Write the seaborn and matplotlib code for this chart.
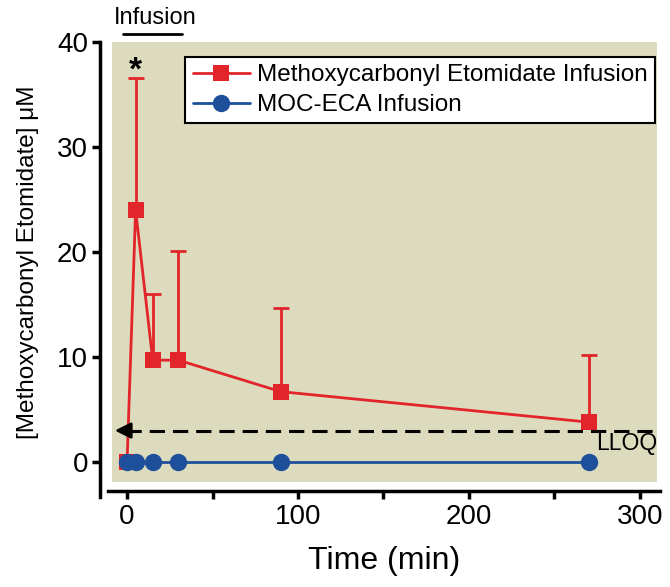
import numpy as np
import pandas as pd
import seaborn as sns
import matplotlib.pyplot as plt

# --- data ---
time_moc = [0, 5, 15, 30, 90, 270]
conc_moc = [0.0, 24.0, 9.7, 9.7, 6.7, 3.8]
err_moc = [0.0, 12.6, 6.3, 10.4, 8.0, 6.4]

time_eca = [0, 5, 15, 30, 90, 270]
conc_eca = [0.0, 0.0, 0.0, 0.0, 0.0, 0.0]

lloq = 3.0
infusion_bar = [-2.5, 32]

label_moc = "Methoxycarbonyl Etomidate Infusion"
label_eca = "MOC-ECA Infusion"

red = "#E2242B"
blue = "#1D4F9B"
bg = "#DDDBBE"

sns.set_style("ticks")
plt.rcParams['font.family'] = ['Liberation Sans', 'DejaVu Sans']
for k in ['text.color', 'axes.labelcolor', 'xtick.color', 'ytick.color', 'axes.edgecolor']:
    plt.rcParams[k] = 'black'

fig = plt.figure(figsize=(6.7, 5.87), dpi=100)
ax = fig.add_axes([0.1672, 0.1789, 0.8134, 0.7496])
ax.set_facecolor(bg)

df_moc = pd.DataFrame({"t": time_moc, "c": conc_moc})
df_eca = pd.DataFrame({"t": time_eca, "c": conc_eca})

# red series with upper error bars only
eb = ax.errorbar(time_moc, conc_moc, yerr=[np.zeros(len(err_moc)), err_moc],
                 fmt='none', ecolor=red, elinewidth=2, capsize=6, capthick=2, zorder=2)
eb[1][0].set_visible(False)  # hide lower caps
sns.lineplot(data=df_moc, x="t", y="c", ax=ax, color=red, lw=2, marker="s",
             markersize=11, markeredgewidth=0, label=label_moc, zorder=3)
sns.lineplot(data=df_eca, x="t", y="c", ax=ax, color=blue, lw=2, marker="o",
             markersize=12.5, markeredgewidth=0, label=label_eca, zorder=4)

xlim = (-8.8, 310)
ax.set_xlim(*xlim)
ax.set_ylim(-1.9, 40)

# LLOQ dashed line with arrow
ax.annotate("", xy=(xlim[0], lloq), xytext=(xlim[0] + 9, lloq),
            arrowprops=dict(arrowstyle="-|>", color="black", lw=2, mutation_scale=24),
            zorder=5)
ax.plot([xlim[0] + 8, xlim[1]], [lloq, lloq], color="black", lw=2.2,
        ls=(0, (5, 2.6)), zorder=5)
ax.text(xlim[1], lloq - 0.15, "LLOQ", ha="right", va="top", fontsize=16.5)

ax.text(4.7, 35.8, "*", ha="center", va="bottom", fontsize=24, fontweight="bold")

# infusion bar above the plot
ax.plot(infusion_bar, [40.75, 40.75], color="black", lw=2, clip_on=False)
ax.text(16.4, 41.2, "Infusion", ha="center", va="bottom", fontsize=17)

# axes styling
ax.set_xticks([0, 100, 200, 300])
ax.set_xticks([50, 150, 250], minor=True)
ax.set_yticks([0, 10, 20, 30, 40])
ax.tick_params(axis='both', which='major', labelsize=20, width=2.5, length=6, pad=3)
ax.tick_params(axis='x', which='minor', width=2.5, length=6)
for s in ["top", "right"]:
    ax.spines[s].set_visible(False)
ax.spines["left"].set_position(("outward", 8.3))
ax.spines["bottom"].set_position(("outward", 6.5))
ax.spines["left"].set_linewidth(2.5)
ax.spines["bottom"].set_linewidth(2.5)
ax.spines["left"].set_bounds(-3.3, 40)
ax.spines["bottom"].set_bounds(-11, 312)

ax.set_xlabel("Time (min)", fontsize=23, labelpad=12)
ax.set_ylabel("[Methoxycarbonyl Etomidate] \u03bcM", fontsize=17.5, labelpad=13)

leg = ax.legend(loc="upper right", bbox_to_anchor=(0.9776, 0.9029), bbox_transform=fig.transFigure,
                fontsize=17.5, frameon=True, fancybox=False, framealpha=1,
                edgecolor="black", handlelength=2.35, borderpad=0.3, labelspacing=0.32,
                handletextpad=0.3, borderaxespad=0)
leg.get_frame().set_linewidth(1.5)

fig.savefig("out.png", dpi=100)
